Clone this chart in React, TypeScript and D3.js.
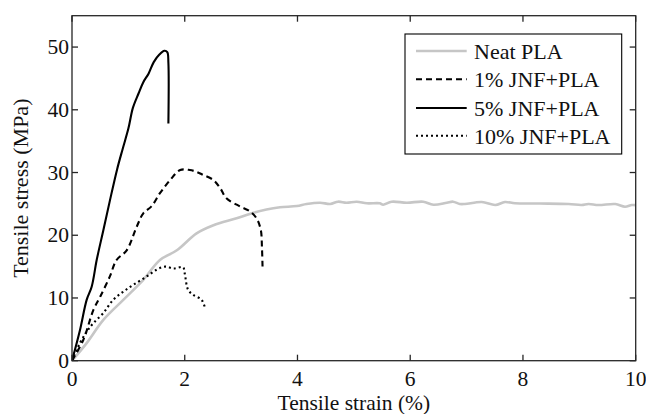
import React from "react";
import * as d3 from "d3";

type Pt = [number, number];

const xTicks = [0, 2, 4, 6, 8, 10];
const yTicks = [0, 10, 20, 30, 40, 50];
const xDomain: [number, number] = [0, 10];
const yDomain: [number, number] = [0, 55];

const seriesNames = ["Neat PLA", "1% JNF+PLA", "5% JNF+PLA", "10% JNF+PLA"];

const neatPLA: Pt[] = [
  [0, 0], [0.26, 2.8], [0.556, 6.5], [0.91, 9.7], [1.265, 12.9], [1.56, 16.05],
  [1.86, 17.6], [2.21, 20.3], [2.51, 21.6], [2.92, 22.7], [3.22, 23.6], [3.45, 24.1],
  [3.69, 24.45], [3.99, 24.66], [4.16, 24.98], [4.4, 25.19], [4.58, 24.98], [4.72, 25.35],
  [4.87, 25.19], [5.05, 25.35], [5.23, 25.09], [5.46, 25.09], [5.52, 24.87], [5.67, 25.35],
  [5.94, 25.19], [6.23, 25.35], [6.41, 24.87], [6.65, 25.19], [6.76, 25.35], [6.88, 24.98],
  [6.97, 24.98], [7.27, 25.3], [7.51, 24.82], [7.68, 25.3], [7.86, 25.09], [8.3, 25.05],
  [8.81, 24.98], [9.04, 24.82], [9.16, 24.98], [9.34, 24.82], [9.64, 24.98], [9.81, 24.55],
  [9.93, 24.82], [10, 24.8],
];

const jnf1: Pt[] = [
  [0, 0], [0.2, 3.3], [0.38, 8.1], [0.5, 10.2], [0.67, 13.4], [0.79, 16.05], [0.97, 17.6],
  [1.15, 21.4], [1.265, 23.5], [1.41, 24.6], [1.56, 26.7], [1.74, 28.8], [1.92, 30.4],
  [2.09, 30.4], [2.21, 30.1], [2.33, 29.6], [2.51, 28.8], [2.63, 27.5], [2.74, 25.9],
  [2.98, 24.6], [3.16, 23.8], [3.28, 22.6], [3.35, 20.8], [3.37, 18], [3.38, 15.0],
];

const jnf5: Pt[] = [
  [0, 0], [0.142, 4.9], [0.26, 9.7], [0.349, 11.8], [0.438, 16.05], [0.556, 20.8],
  [0.674, 25.6], [0.8, 30.5], [0.9, 33.8], [1.0, 37.0], [1.08, 40.3], [1.18, 42.6],
  [1.265, 44.4], [1.36, 45.8], [1.45, 47.6], [1.55, 48.8], [1.64, 49.4], [1.69, 49.2],
  [1.71, 47.5], [1.71, 37.8],
];

const jnf10: Pt[] = [
  [0, 0], [0.14, 2.8], [0.26, 4.6], [0.38, 6.0], [0.556, 7.6], [0.73, 9.7], [0.91, 11.0],
  [1.09, 12.1], [1.32, 13.4], [1.5, 14.5], [1.65, 15.0], [1.8, 14.7], [1.97, 14.9],
  [2.0, 13.9], [2.06, 11.3], [2.15, 10.5], [2.3, 9.7], [2.36, 8.4],
];

const allSeries = [neatPLA, jnf1, jnf5, jnf10];
const seriesStroke = ["#c6c6c6", "#000", "#000", "#000"];
const seriesWidth = [2.6, 2.1, 2.1, 2.1];
const seriesDash = ["none", "6,4", "none", "2,3"];

const FONT = "Liberation Serif";
const FS = 21.5;
const FS_LEG = 22;

export default function App() {
  const W = 646, H = 414;
  const L = 72, R = 635.7, T = 15.7, B = 360.7;
  const x = d3.scaleLinear().domain(xDomain).range([L, R]);
  const y = d3.scaleLinear().domain(yDomain).range([B, T]);
  const line = d3.line<Pt>().x((d) => x(d[0])).y((d) => y(d[1])).curve(d3.curveCatmullRom.alpha(0.5));
  const axisColor = "#262626";
  const tl = 6;
  const ly = [51, 79.3, 108, 135.7];

  return (
    <svg width={W} height={H} style={{ position: "absolute", left: 0, top: 0, display: "block" }}>
      <rect width={W} height={H} fill="#fff" />
      <defs>
        <clipPath id="plotclip">
          <rect x={L} y={T} width={R - L} height={B - T} />
        </clipPath>
      </defs>
      <g clipPath="url(#plotclip)">
        {allSeries.map((s, i) => (
          <path key={i} d={line(s) as string} fill="none" stroke={seriesStroke[i]}
            strokeWidth={seriesWidth[i]} strokeDasharray={seriesDash[i]} strokeLinejoin="round" />
        ))}
      </g>
      <g stroke={axisColor} strokeWidth={1.3}>
        <rect x={L} y={T} width={R - L} height={B - T} fill="none" />
        {xTicks.map((t) => (
          <g key={"x" + t}>
            <line x1={x(t)} x2={x(t)} y1={B} y2={B - tl} />
            <line x1={x(t)} x2={x(t)} y1={T} y2={T + tl} />
          </g>
        ))}
        {yTicks.map((t) => (
          <g key={"y" + t}>
            <line x1={L} x2={L + tl} y1={y(t)} y2={y(t)} />
            <line x1={R} x2={R - tl} y1={y(t)} y2={y(t)} />
          </g>
        ))}
      </g>
      {xTicks.map((t) => (
        <text key={"xl" + t} x={x(t)} y={B + 25.5} textAnchor="middle" fontFamily={FONT} fontSize={FS} fill="#111">{t}</text>
      ))}
      {yTicks.map((t) => (
        <text key={"yl" + t} x={L - 3} y={y(t) + 7} textAnchor="end" fontFamily={FONT} fontSize={FS} fill="#111">{t}</text>
      ))}
      <text x={(L + R) / 2} y={410} textAnchor="middle" fontFamily={FONT} fontSize={FS} fill="#111">Tensile strain (%)</text>
      <text transform={`translate(27.5, ${(T + B) / 2}) rotate(-90)`} textAnchor="middle" fontFamily={FONT} fontSize={FS_LEG} fill="#111">Tensile stress (MPa)</text>
      <g>
        <rect x={405} y={34} width={216.7} height={120} fill="#fff" stroke="#000" strokeWidth={1.1} />
        {seriesNames.map((name, i) => (
          <g key={name}>
            <line x1={416} x2={466.7} y1={ly[i]} y2={ly[i]} stroke={seriesStroke[i]}
              strokeWidth={seriesWidth[i]} strokeDasharray={seriesDash[i]} />
            <text x={474} y={ly[i] + 8} fontFamily={FONT} fontSize={FS_LEG} fill="#111">{name}</text>
          </g>
        ))}
      </g>
    </svg>
  );
}
